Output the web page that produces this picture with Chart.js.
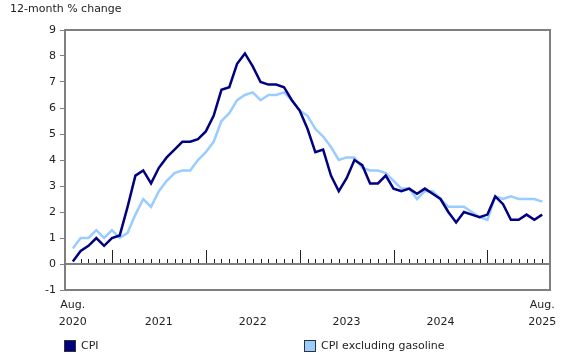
<!DOCTYPE html>
<html>
<head>
<meta charset="utf-8">
<script src="https://cdn.jsdelivr.net/npm/chart.js"></script>
<style>
  body { margin: 0; background: #fff; }
  #wrap { position: relative; width: 580px; height: 360px; font-family: "DejaVu Sans", Verdana, sans-serif; color: #222; }
  #yTitle { position: absolute; left: 10px; top: 2px; font-size: 11px; }
  .legend { position: absolute; top: 339px; font-size: 11px; display: flex; align-items: center; }
  .legend span.box { display: inline-block; width: 10px; height: 10px; border: 1px solid #333; margin-right: 5px; }
</style>
</head>
<body>
<div id="wrap">
  <canvas id="cpiChart" width="580" height="360"></canvas>
  <div id="yTitle">12-month % change</div>
  <div class="legend" style="left:64px"><span class="box" style="background:#000080"></span>CPI</div>
  <div class="legend" style="left:304px"><span class="box" style="background:#99ccff"></span>CPI excluding gasoline</div>
</div>
<script>
// Monthly data, Aug. 2020 to Aug. 2025
const cpi = [
  0.1, 0.5, 0.7, 1.0, 0.7,                                   // 2020 Aug-Dec
  1.0, 1.1, 2.2, 3.4, 3.6, 3.1, 3.7, 4.1, 4.4, 4.7, 4.7, 4.8, // 2021
  5.1, 5.7, 6.7, 6.8, 7.7, 8.1, 7.6, 7.0, 6.9, 6.9, 6.8, 6.3, // 2022
  5.9, 5.2, 4.3, 4.4, 3.4, 2.8, 3.3, 4.0, 3.8, 3.1, 3.1, 3.4, // 2023
  2.9, 2.8, 2.9, 2.7, 2.9, 2.7, 2.5, 2.0, 1.6, 2.0, 1.9, 1.8, // 2024
  1.9, 2.6, 2.3, 1.7, 1.7, 1.9, 1.7, 1.9                      // 2025 Jan-Aug
];
const cpiExGas = [
  0.6, 1.0, 1.0, 1.3, 1.0,
  1.3, 1.0, 1.2, 1.9, 2.5, 2.2, 2.8, 3.2, 3.5, 3.6, 3.6, 4.0,
  4.3, 4.7, 5.5, 5.8, 6.3, 6.5, 6.6, 6.3, 6.5, 6.5, 6.6, 6.3,
  5.9, 5.7, 5.2, 4.9, 4.5, 4.0, 4.1, 4.1, 3.7, 3.6, 3.6, 3.5,
  3.2, 2.9, 2.9, 2.5, 2.8, 2.8, 2.5, 2.2, 2.2, 2.2, 2.0, 1.8,
  1.7, 2.6, 2.5, 2.6, 2.5, 2.5, 2.5, 2.4
];
// x-axis tick positions (month index) and labels
const tickIndexes = [0, 11, 23, 35, 47, 60];
const tickLabels = [["Aug.", "2020"], ["", "2021"], ["", "2022"], ["", "2023"], ["", "2024"], ["Aug.", "2025"]];
// month index of each January (long tick marks)
const januaryIndexes = [5, 17, 29, 41, 53];

const axisColor = "#7f7f7f";

// Draws the frame and the month tick marks on the zero line
const framePlugin = {
  id: "frame",
  afterDatasetsDraw(chart) {
    const { ctx, chartArea, scales } = chart;
    const x = scales.x, y = scales.y;
    ctx.save();
    ctx.strokeStyle = axisColor;
    ctx.lineWidth = 2;
    ctx.strokeRect(chartArea.left, chartArea.top, chartArea.right - chartArea.left, chartArea.bottom - chartArea.top);
    const y0 = Math.round(y.getPixelForValue(0));
    ctx.beginPath();
    ctx.moveTo(chartArea.left, y0);
    ctx.lineTo(chartArea.right, y0);
    ctx.stroke();
    ctx.lineWidth = 1;
    ctx.strokeStyle = "#222";
    ctx.beginPath();
    for (let i = 1; i < cpi.length; i++) {
      const px = Math.round(x.getPixelForValue(i)) + 0.5;
      const len = januaryIndexes.includes(i) ? 14 : 5;
      ctx.moveTo(px, y0 - 1);
      ctx.lineTo(px, y0 - len);
    }
    ctx.stroke();
    ctx.restore();
  }
};

new Chart(document.getElementById("cpiChart"), {
  type: "line",
  data: {
    datasets: [
      {
        label: "CPI",
        data: cpi.map((v, i) => ({ x: i, y: v })),
        borderColor: "#000080",
        borderWidth: 2.5,
        pointRadius: 0,
        tension: 0,
      },
      {
        label: "CPI excluding gasoline",
        data: cpiExGas.map((v, i) => ({ x: i, y: v })),
        borderColor: "#99ccff",
        borderWidth: 2.5,
        pointRadius: 0,
        tension: 0,
      },
    ],
  },
  plugins: [framePlugin],
  options: {
    responsive: false,
    animation: false,
    layout: { padding: { top: 30, right: 30, left: 0, bottom: 0 } },
    plugins: {
      legend: { display: false },
      tooltip: { enabled: false },
    },
    scales: {
      x: {
        type: "linear",
        min: -1,
        max: 61,
        afterBuildTicks: (scale) => {
          scale.ticks = tickIndexes.map((v) => ({ value: v }));
        },
        afterFit: (scale) => { scale.height = 70; },
        grid: { display: false, drawTicks: false },
        border: { display: false },
        ticks: {
          autoSkip: false,
          maxRotation: 0,
          padding: 7,
          color: "#222",
          font: { family: "DejaVu Sans", size: 11, lineHeight: 1.55 },
          callback: (value) => {
            const k = tickIndexes.indexOf(value);
            return k >= 0 ? tickLabels[k] : "";
          },
        },
      },
      y: {
        min: -1,
        max: 9,
        afterFit: (scale) => { scale.width = 65; },
        grid: { drawOnChartArea: false, tickLength: 5, color: axisColor, lineWidth: 1 },
        border: { display: false },
        ticks: {
          stepSize: 1,
          padding: 4,
          color: "#222",
          font: { family: "DejaVu Sans", size: 11 },
        },
      },
    },
  },
});
</script>
</body>
</html>
